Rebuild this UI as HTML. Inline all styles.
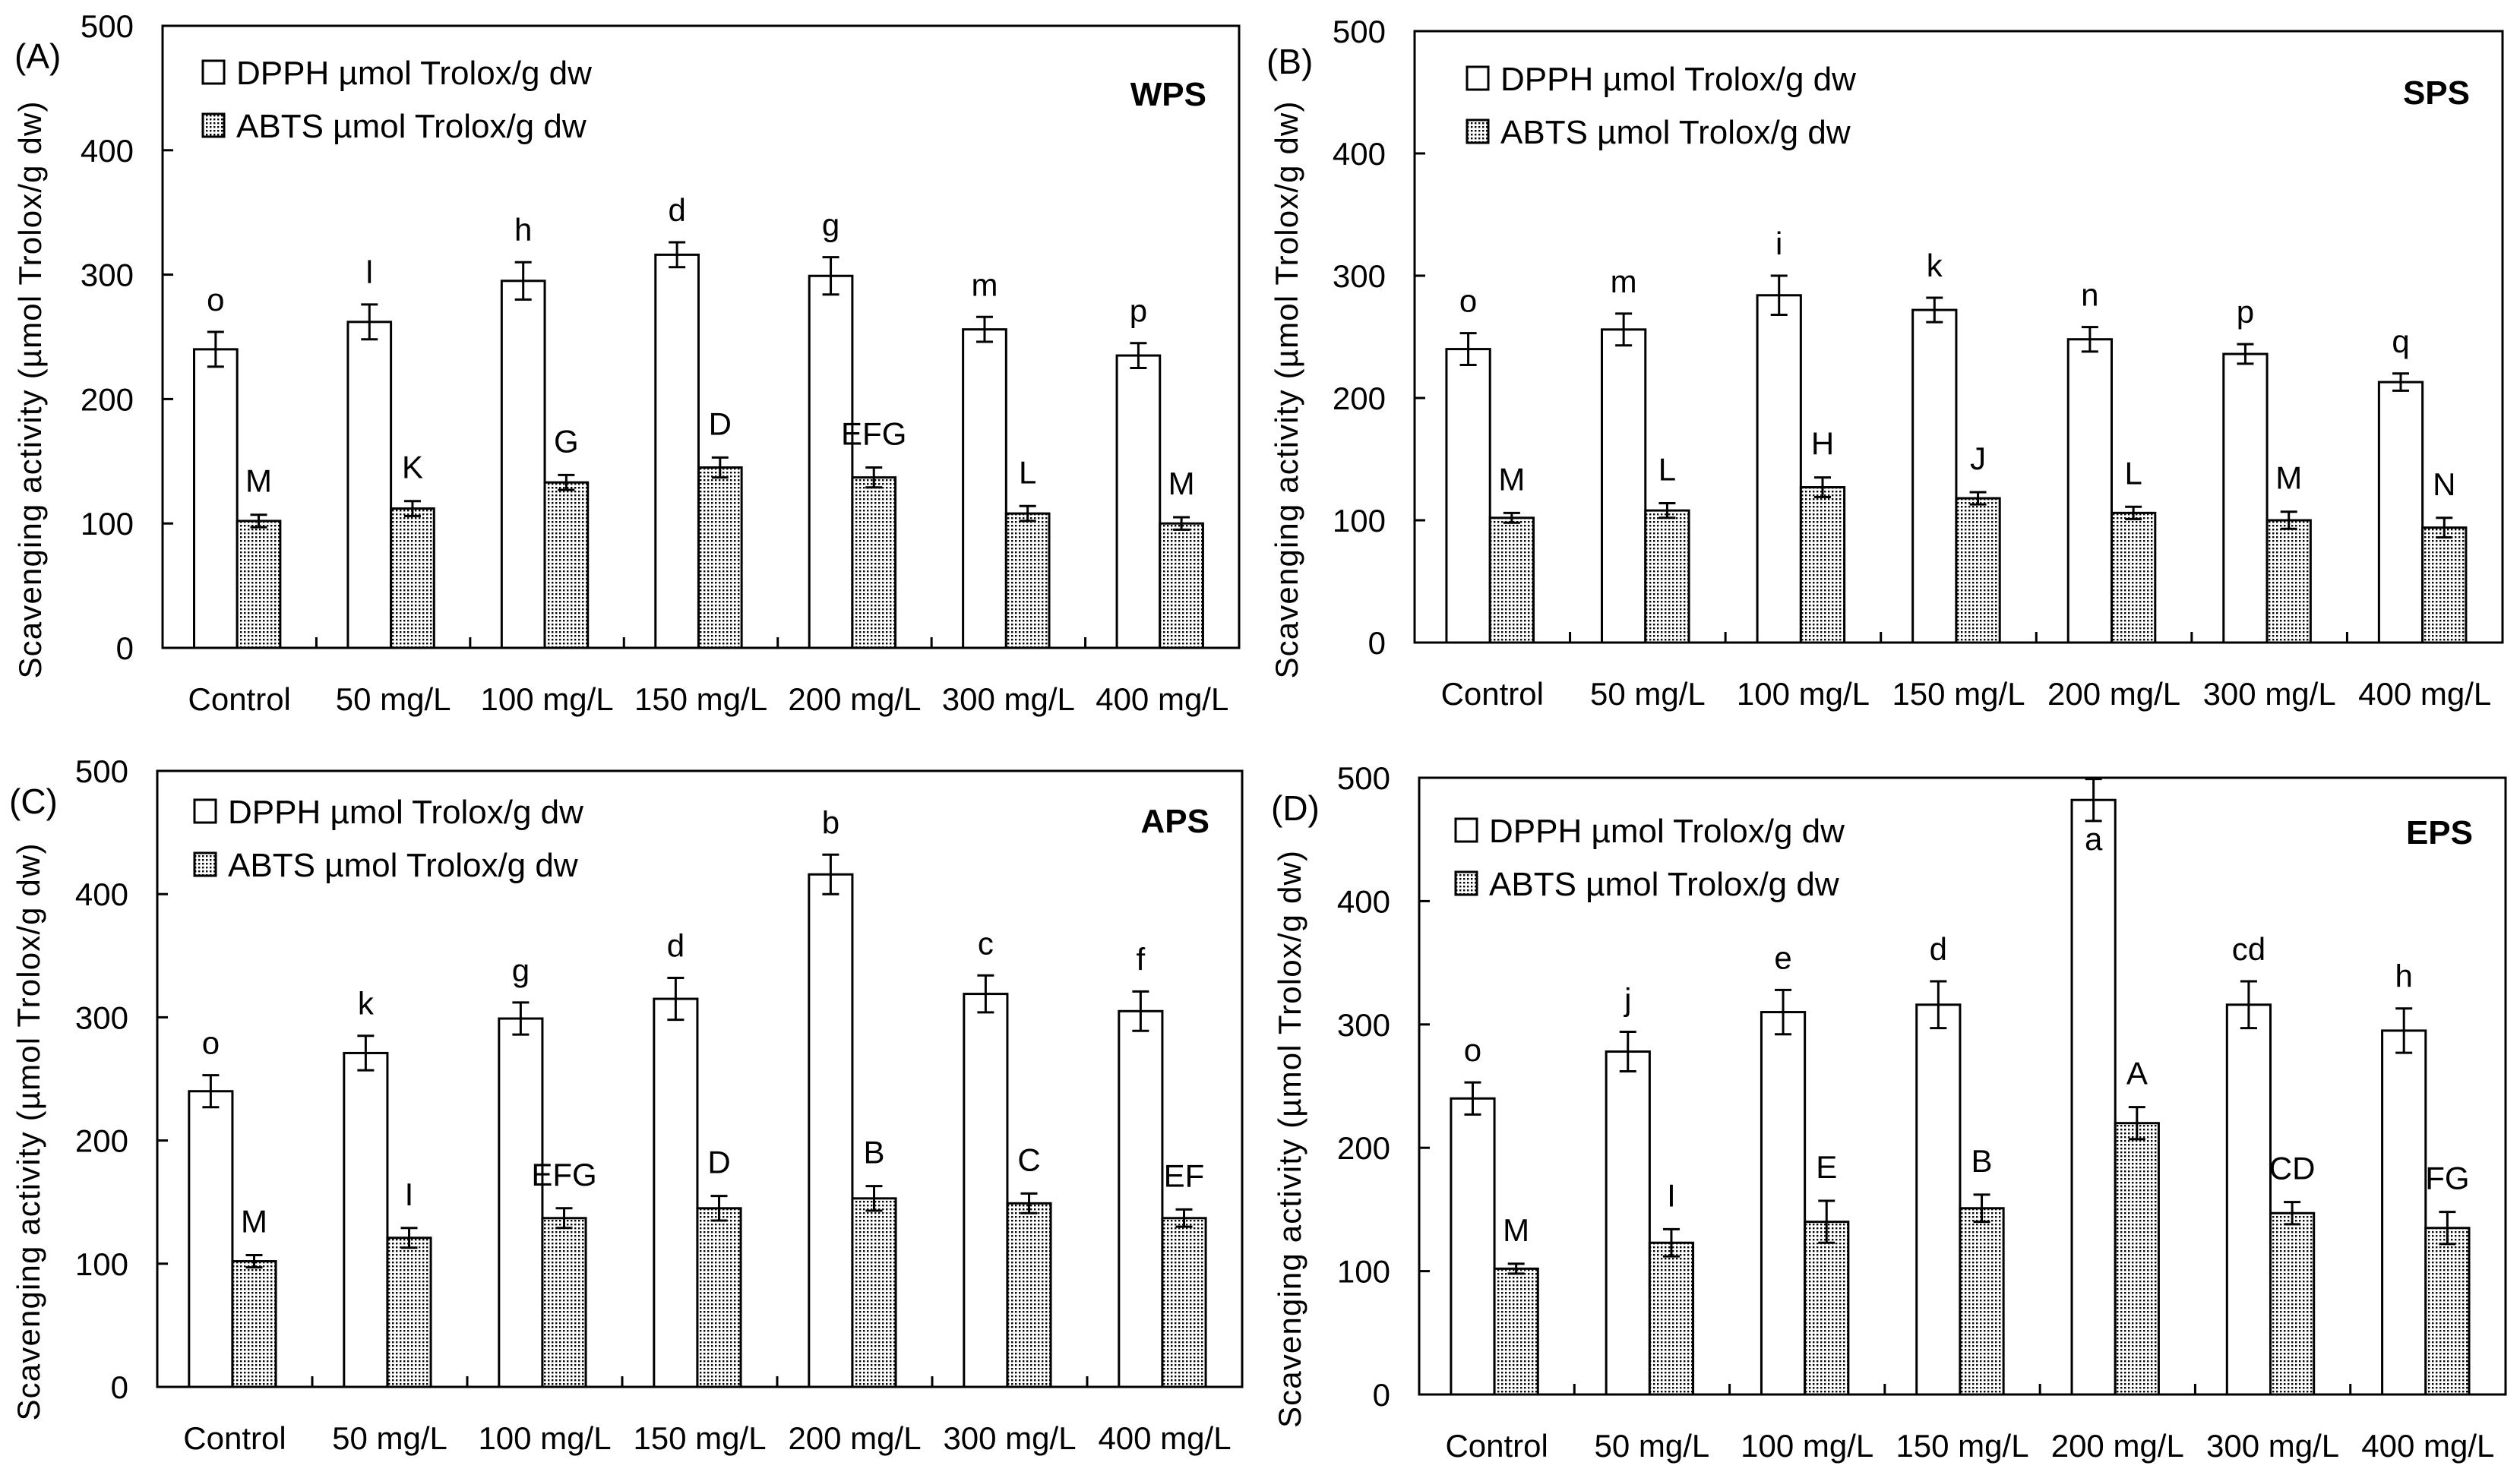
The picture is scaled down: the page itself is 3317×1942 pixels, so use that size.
<!DOCTYPE html>
<html><head><meta charset="utf-8"><style>
html,body{margin:0;padding:0;background:#fff}
svg{display:block}
text{font-family:"Liberation Sans",Arial,sans-serif;fill:#000}
</style></head><body>
<svg id="fig" width="3317" height="1942" viewBox="0 0 3317 1942" xmlns="http://www.w3.org/2000/svg">
<defs>
<pattern id="dots" width="5" height="5" patternUnits="userSpaceOnUse">
<rect width="5" height="5" fill="#fff"/><rect x="1" y="1" width="2.4" height="2.4" fill="#000"/>
</pattern>
</defs>
</svg>
<script>
const categories = ["Control","50 mg/L","100 mg/L","150 mg/L","200 mg/L","300 mg/L","400 mg/L"];
const yTicks = [0,100,200,300,400,500];
const panelIds = ["A","B","C","D"];
const panelTitles = ["WPS","SPS","APS","EPS"];
const dpphA = [240,262,295,316,299,256,235];
const dpphErrA = [14,14,15,10,15,10,10];
const abtsA = [102,112,133,145,137,108,100];
const abtsErrA = [5,6,6,8,8,6,5];
const dpphLblA = ["o","l","h","d","g","m","p"];
const abtsLblA = ["M","K","G","D","EFG","L","M"];
const dpphB = [240,256,284,272,248,236,213];
const dpphErrB = [13,13,16,10,10,8,7];
const abtsB = [102,108,127,118,106,100,94];
const abtsErrB = [4,6,8,5,5,7,8];
const dpphLblB = ["o","m","i","k","n","p","q"];
const abtsLblB = ["M","L","H","J","L","M","N"];
const dpphC = [240,271,299,315,416,319,305];
const dpphErrC = [13,14,13,17,16,15,16];
const abtsC = [102,121,137,145,153,149,137];
const abtsErrC = [5,8,8,10,10,8,7];
const dpphLblC = ["o","k","g","d","b","c","f"];
const abtsLblC = ["M","I","EFG","D","B","C","EF"];
const dpphD = [240,278,310,316,482,316,295];
const dpphErrD = [13,16,18,19,17,19,18];
const abtsD = [102,123,140,151,220,147,135];
const abtsErrD = [4,11,17,11,13,9,13];
const dpphLblD = ["o","j","e","d","a","cd","h"];
const abtsLblD = ["M","I","E","B","A","CD","FG"];

const dpphAll=[dpphA,dpphB,dpphC,dpphD], dpphErrAll=[dpphErrA,dpphErrB,dpphErrC,dpphErrD];
const abtsAll=[abtsA,abtsB,abtsC,abtsD], abtsErrAll=[abtsErrA,abtsErrB,abtsErrC,abtsErrD];
const dLblAll=[dpphLblA,dpphLblB,dpphLblC,dpphLblD], aLblAll=[abtsLblA,abtsLblB,abtsLblC,abtsLblD];

const layout=[
 {l:214,r:1631,t:34,b:853,lx:267,ly:95,ty:123,yx:40},
 {l:1862,r:3294,t:41,b:846,lx:1931,ly:103,ty:121,yx:1694},
 {l:207,r:1635,t:1015,b:1826,lx:256,ly:1068,ty:1080,yx:38},
 {l:1868,r:3298,t:1024,b:1836,lx:1916,ly:1093,ty:1095,yx:1698}
];
const NS="http://www.w3.org/2000/svg";
const svg=document.getElementById('fig');
function mk(tag,attrs,parent,txt){const e=document.createElementNS(NS,tag);for(const k in attrs)e.setAttribute(k,attrs[k]);if(txt!==undefined)e.textContent=txt;(parent||svg).appendChild(e);return e;}

panelIds.forEach((pid,p)=>{
  const L=layout[p];
  const g=mk('g',{});
  
  
  const y=v=>L.b-(v/500)*(L.b-L.t);
  const gw=(L.r-L.l)/categories.length;
  const bw=gw*0.28;
  const pl=mk('text',{x:L.l-195,y:L.t+56,'font-size':46},g,'('+pid+')');
  
  
  const cy=(L.t+L.b)/2+70;
  const yt=mk('text',{x:L.yx,y:cy,'font-size':42,'text-anchor':'middle',textLength:760,lengthAdjust:'spacing',transform:`rotate(-90 ${L.yx} ${cy})`,dy:14},g,'Scavenging activity (µmol Trolox/g dw)');
  
  
  yTicks.forEach(v=>{
    const tl=mk('text',{x:L.l-38,y:y(v)+15,'font-size':42,'text-anchor':'end'},g,String(v));
    
    
    mk('line',{x1:L.l,x2:L.l+14,y1:y(v),y2:y(v),stroke:'#000','stroke-width':3},g);
  });
  categories.forEach((c,i)=>{
    const gx=L.l+i*gw;
    const x1=gx+gw*0.205, x2=x1+bw;
    const dv=dpphAll[p][i], de=dpphErrAll[p][i], av=abtsAll[p][i], ae=abtsErrAll[p][i];
    const b1=mk('rect',{x:x1,y:y(dv),width:bw,height:L.b-y(dv),fill:'#fff',stroke:'#000','stroke-width':3},g);
    
    
    const b2=mk('rect',{x:x2,y:y(av),width:bw,height:L.b-y(av),fill:'url(#dots)',stroke:'#000','stroke-width':3},g);
    
    
    [[x1+bw/2,dv,de],[x2+bw/2,av,ae]].forEach(([cx,v,e])=>{
      mk('line',{x1:cx,x2:cx,y1:y(v+e),y2:y(v-e),stroke:'#000','stroke-width':3},g);
      mk('line',{x1:cx-11,x2:cx+11,y1:y(v+e),y2:y(v+e),stroke:'#000','stroke-width':3},g);
      mk('line',{x1:cx-11,x2:cx+11,y1:y(v-e),y2:y(v-e),stroke:'#000','stroke-width':3},g);
    });
    const inside = y(dv+dpphErrAll[p][i])-60 < L.t+10;
    const dl=mk('text',{x:x1+bw/2,y:inside?y(dv-dpphErrAll[p][i])+38:y(dv+de)-28,'font-size':42,'text-anchor':'middle'},g,dLblAll[p][i]);
    
    
    const al=mk('text',{x:x2+bw/2,y:y(av+ae)-30,'font-size':42,'text-anchor':'middle'},g,aLblAll[p][i]);
    
    
    const xl=mk('text',{x:gx+gw/2,y:L.b+82,'font-size':42,'text-anchor':'middle'},g,c);
    
    
    if(i>0) mk('line',{x1:gx,x2:gx,y1:L.b,y2:L.b-14,stroke:'#000','stroke-width':3},g);
  });
  const fr=mk('rect',{x:L.l,y:L.t,width:L.r-L.l,height:L.b-L.t,fill:'none',stroke:'#000','stroke-width':3},g);
  
  
  const lg=mk('g',{},g);
  
  
  mk('rect',{x:L.lx,y:L.ly-15,width:28,height:30,fill:'#fff',stroke:'#000','stroke-width':3},lg);
  mk('text',{x:L.lx+44,y:L.ly+16,'font-size':44},lg,'DPPH µmol Trolox/g dw');
  mk('rect',{x:L.lx,y:L.ly+55,width:28,height:30,fill:'url(#dots)',stroke:'#000','stroke-width':3},lg);
  mk('text',{x:L.lx+44,y:L.ly+86,'font-size':44},lg,'ABTS µmol Trolox/g dw');
  const tt=mk('text',{x:L.r-43,y:L.ty+16,'font-size':44,'font-weight':'bold','text-anchor':'end'},g,panelTitles[p]);
  
  
});
</script>
</body></html>
